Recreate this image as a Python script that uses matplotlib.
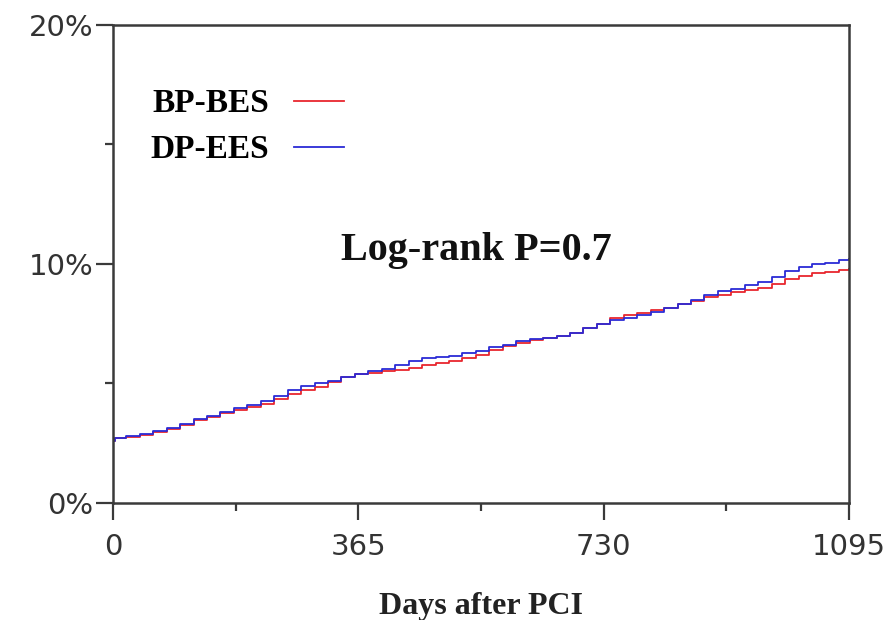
import matplotlib.pyplot as plt
from matplotlib.ticker import FixedLocator, FuncFormatter

# cumulative incidence (%), step changes at these days
days = [0, 0, 3] + list(range(20, 1081, 20)) + [1095]
bp_bes = [0, 2.6, 2.7,
          2.75, 2.85, 2.95, 3.1, 3.25, 3.45, 3.6, 3.75, 3.9, 4.0,
          4.15, 4.35, 4.55, 4.7, 4.85, 5.05, 5.25, 5.4, 5.45, 5.5,
          5.55, 5.65, 5.75, 5.85, 5.95, 6.05, 6.2, 6.4, 6.55, 6.7,
          6.8, 6.9, 7.0, 7.1, 7.3, 7.5, 7.75, 7.85, 7.95, 8.05,
          8.15, 8.3, 8.45, 8.6, 8.7, 8.8, 8.9, 9.0, 9.15, 9.35,
          9.5, 9.6, 9.65, 9.75, 9.8]
dp_ees = [0, 2.6, 2.7,
          2.8, 2.9, 3.0, 3.15, 3.3, 3.5, 3.65, 3.8, 3.95, 4.1,
          4.25, 4.45, 4.7, 4.9, 5.0, 5.1, 5.25, 5.4, 5.5, 5.6,
          5.75, 5.95, 6.05, 6.1, 6.15, 6.25, 6.35, 6.5, 6.6, 6.75,
          6.85, 6.9, 7.0, 7.1, 7.3, 7.5, 7.65, 7.75, 7.85, 8.0,
          8.15, 8.3, 8.5, 8.7, 8.85, 8.95, 9.1, 9.25, 9.45, 9.7,
          9.85, 10.0, 10.05, 10.15, 10.2]

x_major = [0, 365, 730, 1095]
x_minor = [182.5, 547.5, 912.5]
y_major = [0, 10, 20]
y_minor = [5, 15]

fig = plt.figure(figsize=(8.89, 6.20), dpi=100)
ax = fig.add_axes([0.127, 0.189, 0.828, 0.771])

ax.step(days, bp_bes, where='post', color='#e8262e', lw=1.3, label='BP-BES')
ax.step(days, dp_ees, where='post', color='#2b2bd6', lw=1.3, label='DP-EES')

ax.set_xlim(0, 1095)
ax.set_ylim(0, 20)
ax.xaxis.set_major_locator(FixedLocator(x_major))
ax.xaxis.set_minor_locator(FixedLocator(x_minor))
ax.yaxis.set_major_locator(FixedLocator(y_major))
ax.yaxis.set_minor_locator(FixedLocator(y_minor))
ax.yaxis.set_major_formatter(FuncFormatter(lambda v, p: '%d%%' % v))

for s in ax.spines.values():
    s.set_linewidth(1.8)
    s.set_color('#3a3a3a')

ax.tick_params(which='major', direction='out', length=12, width=1.6, color='#3a3a3a',
               labelsize=21, labelcolor='#333333')
ax.tick_params(axis='x', which='major', pad=10)
ax.tick_params(axis='y', which='major', pad=2)
ax.tick_params(which='minor', direction='out', length=6, width=1.6, color='#3a3a3a')

ax.set_xlabel('Days after PCI', family='Liberation Serif', weight='bold', fontsize=23,
              color='#222222', labelpad=22)

ax.text(540, 10.55, 'Log-rank P=0.7', family='Liberation Serif', weight='bold',
        fontsize=29, ha='center', va='center', color='#111111')

leg = ax.legend(loc='upper left', bbox_to_anchor=(0.033, 0.895), frameon=False,
                markerfirst=False, handlelength=1.5, handletextpad=0.75,
                labelspacing=0.45, borderaxespad=0,
                prop={'family': 'Liberation Serif', 'weight': 'bold', 'size': 24})

fig.savefig('out.png', dpi=100)
